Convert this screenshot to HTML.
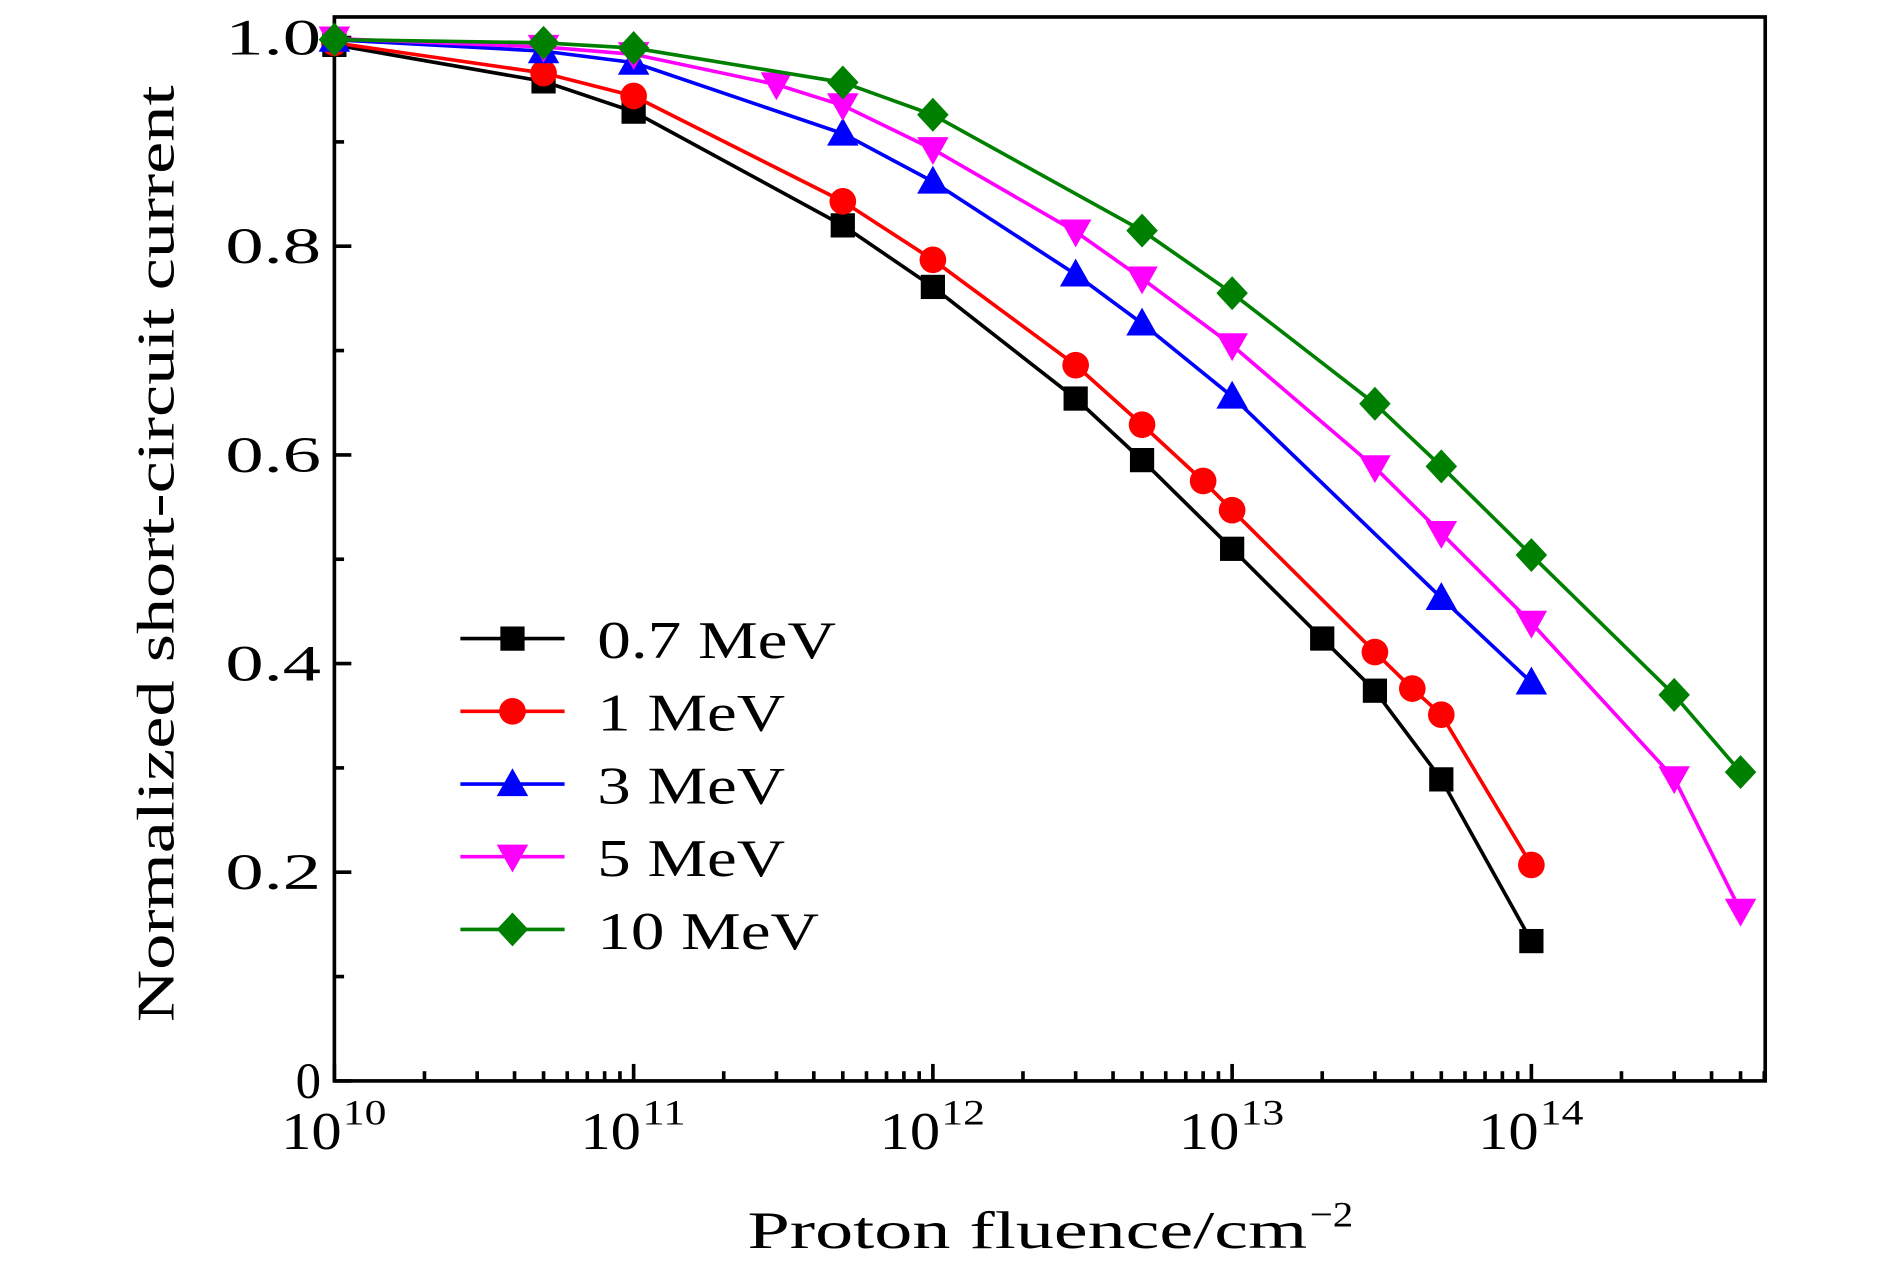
<!DOCTYPE html>
<html><head><meta charset="utf-8"><style>
html,body{margin:0;padding:0;background:#fff;}
svg{display:block;font-family:"Liberation Serif",serif;}
</style></head><body>
<svg id="chart" width="1890" height="1276" viewBox="0 0 1560 1053" preserveAspectRatio="none" xmlns="http://www.w3.org/2000/svg"></svg>
<script>
const xExp = [10, 11, 12, 13, 14];
const yTicks = [0, 0.2, 0.4, 0.6, 0.8, 1.0];
const yTickLabels = ["0", "0.2", "0.4", "0.6", "0.8", "1.0"];
const seriesNames = ["0.7 MeV", "1 MeV", "3 MeV", "5 MeV", "10 MeV"];
const x07 = [1e10,5e10,1e11,5e11,1e12,3e12,5e12,1e13,2e13,3e13,5e13,1e14];
const y07 = [0.993,0.958,0.929,0.82,0.761,0.654,0.595,0.51,0.424,0.374,0.289,0.134];
const x1 = [1e10,5e10,1e11,5e11,1e12,3e12,5e12,8e12,1e13,3e13,4e13,5e13,1e14];
const y1 = [0.995,0.966,0.944,0.843,0.787,0.686,0.629,0.575,0.547,0.411,0.376,0.351,0.207];
const x3 = [1e10,5e10,1e11,5e11,1e12,3e12,5e12,1e13,5e13,1e14];
const y3 = [0.998,0.987,0.976,0.908,0.862,0.773,0.726,0.656,0.463,0.382];
const x5 = [1e10,5e10,1e11,3e11,5e11,1e12,3e12,5e12,1e13,3e13,5e13,1e14,3e14,5e14];
const y5 = [0.999,0.991,0.984,0.955,0.935,0.893,0.814,0.769,0.705,0.588,0.525,0.439,0.29,0.163];
const x10 = [1e10,5e10,1e11,5e11,1e12,5e12,1e13,3e13,5e13,1e14,3e14,5e14];
const y10 = [0.998,0.995,0.99,0.957,0.926,0.815,0.755,0.649,0.589,0.504,0.37,0.296];

const L=276,R=1457,T=14,B=892;
const X = v => L + (Math.log10(v)-10)*247;
const Y = v => 892 - v*861;
const svg = document.getElementById('chart');
const NS='http://www.w3.org/2000/svg';
function mk(tag, attrs, parent){const e=document.createElementNS(NS,tag);for(const k in attrs)e.setAttribute(k,attrs[k]);(parent||svg).appendChild(e);return e;}

const frame = mk('rect',{x:L,y:T,width:R-L,height:B-T,fill:'none',stroke:'#000','stroke-width':3});



yTicks.forEach((v,i)=>{
  mk('line',{x1:L,x2:L+14,y1:Y(v),y2:Y(v),stroke:'#000','stroke-width':3});
  if(i<yTicks.length-1) mk('line',{x1:L,x2:L+8,y1:Y(v+0.1),y2:Y(v+0.1),stroke:'#000','stroke-width':3});
  const lab=yTickLabels[i];
  const attrs={x:L-11,y:Y(v)+14,'text-anchor':'end','font-size':42};
  if(lab.length>1){attrs.textLength=79;attrs.lengthAdjust='spacingAndGlyphs';}
  const t=mk('text',attrs);
  t.textContent=lab;
  
  
});
for(let d=10; d<=14; d++){
  mk('line',{x1:X(Math.pow(10,d)),x2:X(Math.pow(10,d)),y1:B,y2:B-14,stroke:'#000','stroke-width':3});
  for(let m=2;m<=9;m++){const v=m*Math.pow(10,d); if(X(v)<R) mk('line',{x1:X(v),x2:X(v),y1:B,y2:B-8,stroke:'#000','stroke-width':3});}
}
xExp.forEach(e=>{
  const cx=X(Math.pow(10,e));
  const g=mk('g',{});
  
  
  const t=mk('text',{x:cx-44,y:B+56,'font-size':44,textLength:50,lengthAdjust:'spacingAndGlyphs'},g);
  t.textContent='10';
  const s=mk('text',{x:cx+7,y:B+36,'font-size':30,textLength:36,lengthAdjust:'spacingAndGlyphs'},g);
  s.textContent=String(e);
});
const xt=mk('text',{x:617,y:1030,'font-size':44,textLength:462,lengthAdjust:'spacingAndGlyphs'});
xt.textContent='Proton fluence/cm';


const sup=mk('text',{x:1081,y:1012,'font-size':30,textLength:36,lengthAdjust:'spacingAndGlyphs'});
sup.textContent='−2';


const yt=mk('text',{x:0,y:0,'text-anchor':'middle','font-size':44,textLength:773,lengthAdjust:'spacingAndGlyphs',transform:'translate(143,457) rotate(-90)'});
yt.textContent='Normalized short-circuit current';



const colors=['#000000','#ff0000','#0000ff','#ff00ff','#008000'];
const shapes=['square','circle','up','down','diamond'];
const xs=[x07,x1,x3,x5,x10], ys=[y07,y1,y3,y5,y10];
const legendLens=[197,155,155,155,183];
function marker(shape,cx,cy,c,g){
  if(shape==='square') return mk('rect',{x:cx-10,y:cy-10,width:20,height:20,fill:c},g);
  if(shape==='circle') return mk('circle',{cx,cy,r:11,fill:c},g);
  if(shape==='up') return mk('polygon',{points:`${cx},${cy-13} ${cx-13},${cy+10} ${cx+13},${cy+10}`,fill:c},g);
  if(shape==='down') return mk('polygon',{points:`${cx},${cy+13} ${cx-13},${cy-10} ${cx+13},${cy-10}`,fill:c},g);
  return mk('polygon',{points:`${cx},${cy-14} ${cx+13},${cy} ${cx},${cy+14} ${cx-13},${cy}`,fill:c},g);
}
xs.forEach((xa,s)=>{
  const g=mk('g',{});
  
  
  mk('polyline',{points:xa.map((v,i)=>X(v)+','+Y(ys[s][i])).join(' '),fill:'none',stroke:colors[s],'stroke-width':3},g);
  xa.forEach((v,i)=>{const m=marker(shapes[s],X(v),Y(ys[s][i]),colors[s],g);
    
    });
});
seriesNames.forEach((n,i)=>{
  const y=527+i*60;
  const g=mk('g',{});
  
  
  mk('line',{x1:380,x2:466,y1:y,y2:y,stroke:colors[i],'stroke-width':3},g);
  marker(shapes[i],423,y,colors[i],g);
  const t=mk('text',{x:493,y:y+16,'font-size':44,textLength:legendLens[i],lengthAdjust:'spacingAndGlyphs'},g); t.textContent=n;
});
</script>
</body></html>
